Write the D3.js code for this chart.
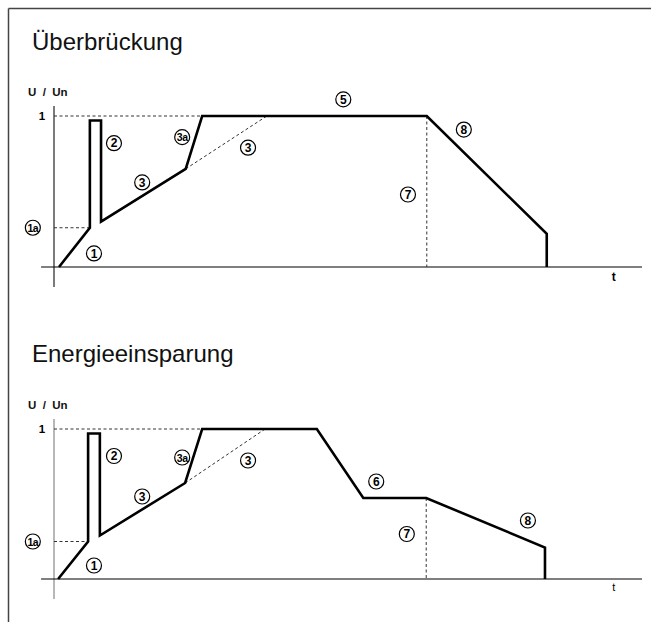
<!DOCTYPE html>
<html>
<head>
<meta charset="utf-8">
<script src="https://cdn.jsdelivr.net/npm/d3@7"></script>
<style>
  body { margin: 0; background: #fff; }
  svg { display: block; font-family: "Liberation Sans", Arial, sans-serif; }
</style>
</head>
<body>
<div id="chart"></div>
<script>
// curve points: t (arbitrary time units 0..100) and U/Un
var topT = [0.85, 6.1, 6.1, 8.0, 8.0, 22.4, 25.2, 63.4, 83.8, 83.8];
var topU = [0, 0.26, 0.97, 0.97, 0.30, 0.65, 1, 1, 0.22, 0];

var botT = [0.7, 5.8, 5.8, 7.8, 7.8, 22.3, 25.2, 44.7, 52.6, 63.3, 83.5, 83.5];
var botU = [0, 0.25, 0.97, 0.97, 0.29, 0.64, 1, 1, 0.54, 0.54, 0.21, 0];

// circled markers: label, t, U/Un
var topLabels = ["1a", "1", "2", "3", "3a", "3", "5", "8", "7"];
var topLabelT = [-3.6, 6.8, 10.2, 15.0, 21.8, 33.0, 49.2, 69.7, 60.2];
var topLabelU = [0.26, 0.09, 0.82, 0.56, 0.86, 0.79, 1.11, 0.91, 0.48];

var botLabels = ["1a", "1", "2", "3", "3a", "3", "6", "7", "8"];
var botLabelT = [-3.6, 6.8, 10.2, 15.0, 21.8, 33.0, 54.8, 60.0, 80.6];
var botLabelU = [0.25, 0.09, 0.82, 0.55, 0.81, 0.79, 0.65, 0.30, 0.39];

var width = 651, height = 622;

var svg = d3.select("#chart").append("svg")
    .attr("width", width)
    .attr("height", height);

// frame: top and left edge only
svg.append("line").attr("x1", 8.5).attr("y1", 8.5).attr("x2", width).attr("y2", 8.5)
    .attr("stroke", "#444").attr("stroke-width", 1.5);
svg.append("line").attr("x1", 8.5).attr("y1", 8.5).attr("x2", 8.5).attr("y2", height)
    .attr("stroke", "#444").attr("stroke-width", 1.5);

var x = d3.scaleLinear().domain([0, 100]).range([54, 642]);

function drawPanel(opt) {
    var y = d3.scaleLinear().domain([0, 1]).range([opt.y0, opt.y1]);
    var g = svg.append("g");

    g.append("text")
        .attr("x", 32).attr("y", opt.titleY)
        .attr("font-size", 24)
        .attr("fill", "#111")
        .text(opt.title);

    g.append("text")
        .attr("x", 28).attr("y", y(1) - 20)
        .attr("font-size", 11.5).attr("font-weight", "bold")
        .attr("fill", "#111")
        .attr("xml:space", "preserve")
        .text("U  /  Un");

    g.append("text")
        .attr("x", 42).attr("y", y(1) + 4)
        .attr("font-size", 11.5).attr("font-weight", "bold")
        .attr("text-anchor", "middle")
        .text("1");

    // axes
    g.append("line")
        .attr("x1", x(0)).attr("x2", x(0))
        .attr("y1", y(1) - 10).attr("y2", y(0) + 20)
        .attr("stroke", opt.yAxisColor).attr("stroke-width", 1.2);
    g.append("line")
        .attr("x1", x(-2.2)).attr("x2", x(100))
        .attr("y1", y(0)).attr("y2", y(0))
        .attr("stroke", "#000").attr("stroke-width", 1.2);

    g.append("text")
        .attr("x", x(95.2)).attr("y", y(0) + (opt.tBold ? 14 : 12))
        .attr("font-size", opt.tBold ? 12 : 11)
        .attr("font-weight", opt.tBold ? "bold" : "normal")
        .attr("text-anchor", "middle")
        .text("t");

    var tv = opt.t, uv = opt.u;
    var dash = {stroke: "#333", "stroke-width": 1, "stroke-dasharray": "3,2.5", fill: "none"};
    function dashed(a, b) {
        var l = g.append("line")
            .attr("x1", x(a[0])).attr("y1", y(a[1]))
            .attr("x2", x(b[0])).attr("y2", y(b[1]));
        Object.keys(dash).forEach(function(k) { l.attr(k, dash[k]); });
    }
    // reference lines
    dashed([0, 1], [tv[6], 1]);
    dashed([0, uv[1]], [tv[1], uv[1]]);
    dashed([tv[5], uv[5]], [opt.dashEndT, 1]);
    dashed([opt.vT, opt.vU], [opt.vT, 0]);

    var pts = tv.map(function(d, i) { return [d, uv[i]]; });
    var line = d3.line()
        .x(function(d) { return x(d[0]); })
        .y(function(d) { return y(d[1]); });
    g.append("path")
        .attr("d", line(pts))
        .attr("fill", "none")
        .attr("stroke", "#000")
        .attr("stroke-width", 2.6)
        .attr("stroke-linejoin", "miter");

    var lab = g.selectAll(".mark")
        .data(opt.labels.map(function(d, i) { return {s: d, t: opt.lt[i], u: opt.lu[i]}; }))
        .enter().append("g")
        .attr("transform", function(d) { return "translate(" + x(d.t) + "," + y(d.u) + ")"; });
    lab.append("circle")
        .attr("r", 7.5)
        .attr("fill", "#fff")
        .attr("stroke", "#000")
        .attr("stroke-width", 1.2);
    lab.append("text")
        .attr("text-anchor", "middle")
        .attr("dy", 4.2)
        .attr("font-size", function(d) { return d.s.length > 1 ? 10.5 : 12; })
        .attr("font-weight", "bold")
        .attr("letter-spacing", function(d) { return d.s.length > 1 ? -0.4 : 0; })
        .text(function(d) { return d.s; });
}

drawPanel({
    title: "Überbrückung", titleY: 50, y0: 267, y1: 116,
    t: topT, u: topU, labels: topLabels, lt: topLabelT, lu: topLabelU,
    dashEndT: 36.2, vT: 63.4, vU: 1, yAxisColor: "#222", tBold: true
});

drawPanel({
    title: "Energieeinsparung", titleY: 362, y0: 579, y1: 429,
    t: botT, u: botU, labels: botLabels, lt: botLabelT, lu: botLabelU,
    dashEndT: 35.9, vT: 63.3, vU: 0.54, yAxisColor: "#888", tBold: false
});
</script>
</body>
</html>
